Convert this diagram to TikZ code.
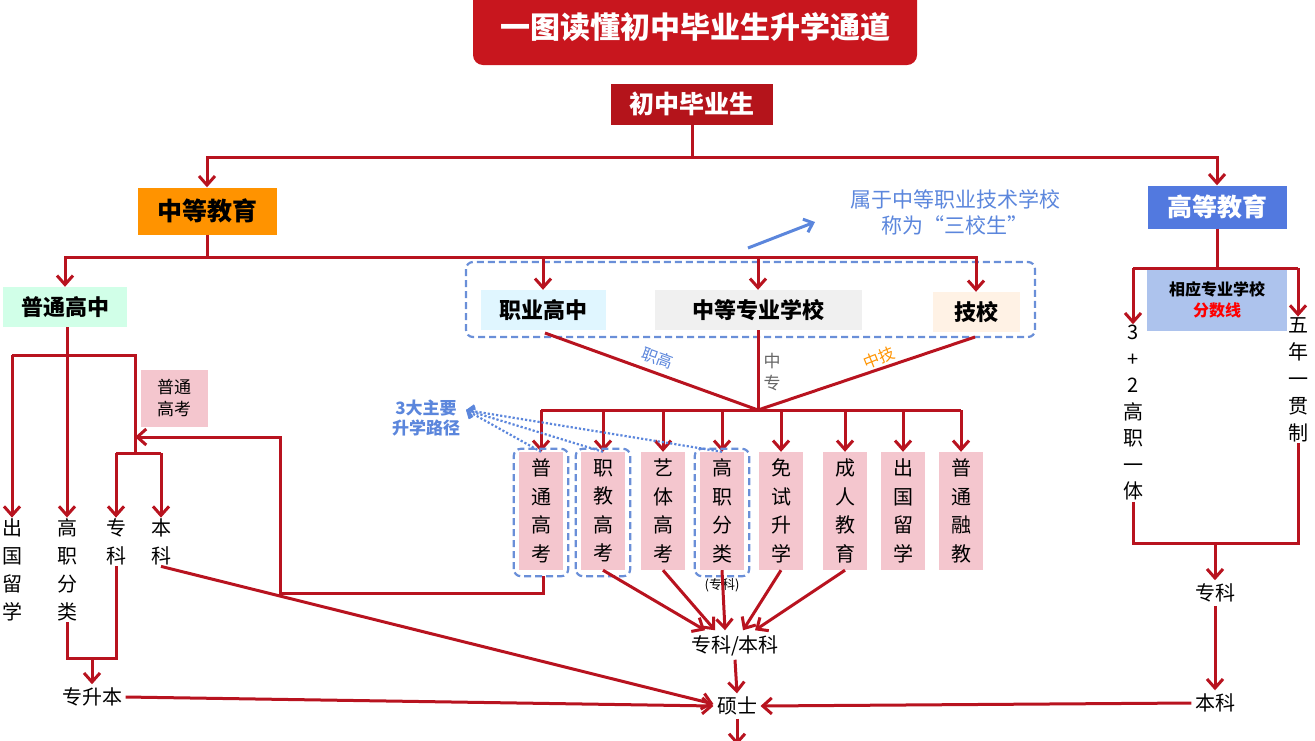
\documentclass[tikz,border=0pt]{standalone}
\usepackage{fontspec}
\setmainfont{Noto Sans CJK SC}
\usepackage{xcolor}
\definecolor{linered}{HTML}{B8131F}
\definecolor{titlered}{HTML}{C8161E}
\definecolor{pathblue}{HTML}{5B86DC}
\definecolor{dashblue}{HTML}{6A8FD8}
\definecolor{pinkbox}{HTML}{F4C6CE}
\usetikzlibrary{arrows.meta,positioning,calc}
\tikzset{
	conn/.style={draw=linered, line width=3pt},
	arr/.style={conn, -{Straight Barb[length=9pt,width=16pt,line width=3pt]}},
	headbox/.style={font=\fontsize{25}{28}\selectfont\bfseries, inner sep=6pt},
	plain/.style={font=\fontsize{20}{24}\selectfont},
	vbox/.style={fill=pinkbox, font=\fontsize{20}{28.5}\selectfont, align=center, minimum width=44pt, minimum height=118pt, inner sep=2pt},
	vtxt/.style={font=\fontsize{20}{28}\selectfont, align=center, inner sep=1pt},
	hilite/.style={draw=dashblue, dashed, line width=2.2pt, rounded corners=7pt, dash pattern=on 7pt off 4pt}
}
\begin{document}
\begin{tikzpicture}[x=1pt,y=-1pt]
	\useasboundingbox (0,0) rectangle (1315,740);
	% header
	\fill [titlered, rounded corners=10pt] (473,-12) rectangle (917,65);
	\node [white, font=\fontsize{30}{34}\selectfont\bfseries] (title) at (695,27) {一图读懂初中毕业生升学通道};
	\node [headbox, fill=titlered!90!black, text=white, minimum width=162pt, minimum height=41pt] (grad) at (692,104) {初中毕业生};
	\node [headbox, fill=orange!85!yellow, minimum width=139pt, minimum height=47pt] (mid) at (207,211) {中等教育};
	\node [headbox, fill=pathblue!90!blue, text=white, minimum width=139pt, minimum height=43pt] (high) at (1217,207) {高等教育};
	\coordinate (g1) at (692,157);
	\draw [conn] (grad.south) -- (g1);
	\draw [arr] (g1) -| (mid.north);
	\draw [arr] (g1) -| (high.north);
	% secondary schools
	\node [headbox, font=\fontsize{22}{26}\selectfont\bfseries, fill=green!50!cyan!18, minimum width=124pt, minimum height=40pt] (pugao) at (65,307) {普通高中};
	\node [headbox, font=\fontsize{22}{26}\selectfont\bfseries, fill=blue!30!cyan!12, minimum width=125pt, minimum height=40pt] (zhigao) at (543,310) {职业高中};
	\node [headbox, font=\fontsize{22}{26}\selectfont\bfseries, fill=black!6, minimum width=207pt, minimum height=40pt] (zhongzhuan) at (758,310) {中等专业学校};
	\node [headbox, font=\fontsize{22}{26}\selectfont\bfseries, fill=orange!10, minimum width=87pt, minimum height=40pt] (jixiao) at (976,312) {技校};
	\draw [hilite] (466,262) rectangle (1035,337);
	\coordinate (m1) at (207,257);
	\draw [conn] (mid.south) -- (m1);
	\draw [arr] (m1) -| (pugao.north);
	\draw [arr] (m1) -| (zhigao.north);
	\draw [arr] (m1) -| (zhongzhuan.north);
	\draw [arr] (m1) -| (jixiao.north);
	\node [pathblue, font=\fontsize{21}{26}\selectfont, align=center] (sanxiao) at (955,212) {属于中等职业技术学校\\称为“三校生”};
	\coordinate (s0) at (748,248);
	\draw [pathblue, line width=3pt, -{Straight Barb[length=8pt,width=14pt,line width=3pt]}] (s0) -- (815,222);
	% merge of the three schools
	\coordinate (hub) at (758,410);
	\draw [conn] (545,333) -- (hub);
	\draw [conn] (zhongzhuan.south) -- (hub);
	\draw [conn] (975,337) -- (hub);
	\node [pathblue, rotate=-20, font=\fontsize{16}{19}\selectfont] (lzg) at (658,358) {职高};
	\node [vtxt, black!60, font=\fontsize{17}{22}\selectfont] (lzz) at (772,372) {中\\专};
	\node [orange!85!yellow, rotate=22, font=\fontsize{16}{19}\selectfont] (lzj) at (879,358) {中技};
	\draw [conn] (541,410) -- (961,410);
	\foreach \x/\t [count=\i] in {541/普\\通\\高\\考, 603/职\\教\\高\\考, 663/艺\\体\\高\\考, 722/高\\职\\分\\类, 781/免\\试\\升\\学, 845/成\\人\\教\\育, 903/出\\国\\留\\学, 961/普\\通\\融\\教}
	{
		\node [vbox] (p\i) at (\x,511) {\t};
		\draw [arr] (\x,410) -- (p\i.north);
	}
	\foreach \i in {1,2,4}
		\draw [hilite] ($(p\i.south west)+(-5,6)$) rectangle ($(p\i.north east)+(5,-3)$);
	\node [font=\fontsize{13}{15}\selectfont] (zk) at (722,585) {(专科)};
	\node [pathblue, font=\fontsize{17}{20}\selectfont\bfseries, align=center] (three) at (426,418) {3大主要\\升学路径};
	\foreach \i in {1,2,4}
		\draw [pathblue, line width=2.2pt, dotted, -{Straight Barb[length=6pt,width=12pt]}] (p\i.north) -- (466,410);
	\node [plain] (zb) at (735,646) {专科/本科};
	\foreach \i/\dx in {2/-30,3/-20,4/-10,5/8,6/20}
		\draw [arr] (p\i.south) -- ($(zb.north)+(\dx,-2)$);
	\node [plain] (shuo) at (737,706) {硕士};
	\draw [arr] (zb.south) -- (shuo.north);
	\coordinate (bot) at (737,745);
	\draw [arr] (shuo.south) -- (bot);
	% 普通高中 branch
	\node [vtxt] (cg) at (12,570) {出\\国\\留\\学};
	\node [vtxt] (gz) at (67,570) {高\\职\\分\\类};
	\node [vtxt] (zk1) at (116,542) {专\\科};
	\node [vtxt] (bk1) at (161,542) {本\\科};
	\node [fill=pinkbox, font=\fontsize{17}{22}\selectfont, align=center, minimum width=67pt, minimum height=57pt] (gk) at (174,398) {普通\\高考};
	\coordinate (a1) at (67,355);
	\coordinate (a2) at (135,437);
	\coordinate (a3) at (135,453);
	\draw [conn] (a1 |- pugao.south) -- (a1);
	\draw [conn] (12,355) -- (135,355) -- (a3);
	\draw [arr] (12,355) -- (cg.north);
	\draw [arr] (a1) -- (gz.north);
	\draw [conn] (116,453) -- (161,453);
	\draw [arr] (116,453) -- (zk1.north);
	\draw [arr] (161,453) -- (bk1.north);
	\draw [arr] (p1.south) ++(2,6) |- (280,593) |- (a2);
	\coordinate (a4) at (92,658);
	\node [plain] (zsb) at (92,697) {专升本};
	\draw [conn] (gz.south) |- (a4) -| (zk1.south);
	\draw [arr] (a4) -- (zsb.north);
	\draw [arr] (bk1.south) -- ($(shuo.west)+(0,-2)$);
	\draw [arr] (zsb.east) -- (shuo.west);
	% 高等教育 branch
	\node [fill=pathblue!50, align=center, minimum width=140pt, minimum height=62pt, font=\fontsize{16}{21}\selectfont\bfseries] (fsx) at (1217,300) {相应专业学校\\\textcolor{red}{分数线}};
	\node [vtxt, font=\fontsize{20}{26.5}\selectfont] (sanjia) at (1133,413) {3\\+\\2\\高\\职\\一\\体};
	\node [vtxt, font=\fontsize{20}{27}\selectfont] (wunian) at (1298,380) {五\\年\\一\\贯\\制};
	\coordinate (h1) at (1217,268);
	\draw [conn] (high.south) -- (h1);
	\draw [arr] (1133,268) -- (sanjia.north);
	\draw [arr] (1298,268) -- (wunian.north);
	\draw [conn] (1133,268) -- (1298,268);
	\coordinate (h2) at (1215,543);
	\draw [conn] (sanjia.south) |- (h2) -| (wunian.south);
	\node [plain] (zk2) at (1215,593) {专科};
	\node [plain] (bk2) at (1215,703) {本科};
	\draw [arr] (h2) -- (zk2.north);
	\draw [arr] (zk2.south) -- (bk2.north);
	\draw [arr] (bk2.west) -- (shuo.east);
\end{tikzpicture}
\end{document}
